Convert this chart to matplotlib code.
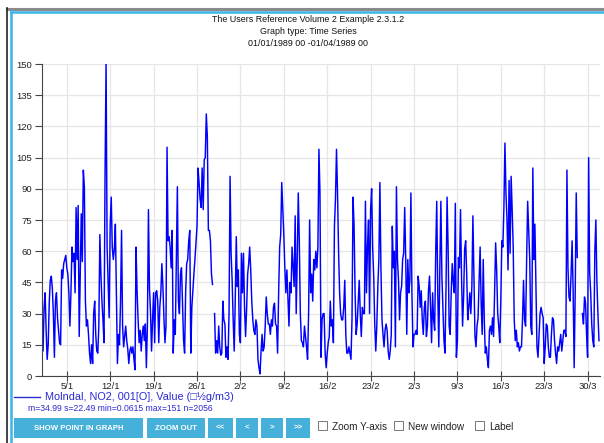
import numpy as np
import pandas as pd
import matplotlib
matplotlib.use("Agg")
import matplotlib.pyplot as plt
from matplotlib.patches import Rectangle
from matplotlib.lines import Line2D

nan = np.nan

# NO2 (ug/m3) at Molndal, every 4 hours, one row per day
no2 = [
    [30, 12, 33, 40, 22, 8], [15, 35, 46, 48, 42, 30], [9, 36, 40, 28, 22, 16],
    [15, 51, 47, 54, 56, 58], [52, 49, 40, 24, 40, 62], [55, 59, 40, 81, 56, 82],
    [19, 50, 78, 55, 99, 91], [36, 24, 27, 20, 11, 6], [15, 6, 30, 36, 20, 12],
    [11, 24, 68, 49, 36, 27], [16, 96, 151, 62, 45, 28], [73, 86, 62, 56, 61, 73],
    [40, 6, 20, 15, 36, 70], [24, 14, 19, 24, 17, 13], [6, 12, 14, 11, 14, 8],
    [3, 62, 41, 27, 16, 22], [12, 20, 24, 17, 25, 4], [24, 80, 42, 31, 12, 27],
    [40, 16, 40, 41, 36, 16], [33, 40, 54, 43, 28, 16], [24, 110, 65, 67, 62, 52],
    [70, 11, 27, 20, 56, 91], [36, 30, 49, 52, 35, 17], [11, 40, 54, 56, 65, 70],
    [11, 33, 41, 49, 56, 64], [72, 100, 93, 85, 81, 100], [80, 104, 105, 126, 115, 70],
    [70, 65, 49, 44, nan, 30], [11, 17, 11, 24, 14, 10], [11, 36, 27, 25, 9, 14],
    [8, 30, 96, 59, 46, 27], [12, 36, 67, 43, 51, 20], [16, 59, 40, 59, 33, 19],
    [32, 49, 54, 62, 51, 36], [27, 22, 20, 27, 24, 8], [4, 1, 12, 20, 12, 14],
    [24, 38, 30, 25, 25, 20], [27, 24, 33, 35, 25, 24], [11, 40, 62, 68, 93, 81],
    [68, 52, 40, 51, 38, 24], [45, 40, 62, 52, 43, 77], [30, 56, 88, 65, 30, 17],
    [16, 14, 24, 19, 14, 8], [30, 75, 40, 49, 36, 56], [51, 60, 52, 62, 109, 88],
    [9, 27, 30, 30, 11, 4], [11, 16, 19, 36, 24, 27], [16, 72, 85, 109, 88, 60],
    [40, 30, 27, 27, 33, 46], [20, 11, 11, 14, 11, 8], [27, 86, 72, 40, 20, 25],
    [35, 46, 30, 19, 33, 30], [30, 84, 40, 62, 75, 30], [80, 90, 62, 48, 25, 12],
    [24, 43, 56, 93, 52, 27], [20, 14, 22, 25, 22, 12], [8, 12, 20, 72, 52, 60],
    [14, 91, 56, 46, 27, 40], [43, 56, 59, 81, 56, 20], [56, 40, 46, 88, 40, 14],
    [20, 20, 22, 20, 48, 43], [33, 41, 27, 20, 33, 36], [19, 24, 41, 48, 33, 16],
    [40, 27, 22, 59, 84, 40], [14, 52, 84, 48, 33, 17], [11, 43, 86, 62, 24, 20],
    [40, 54, 45, 40, 83, 9], [17, 57, 52, 80, 48, 24], [38, 61, 65, 49, 27, 33],
    [40, 30, 43, 77, 48, 19], [14, 24, 28, 46, 62, 35], [20, 56, 27, 11, 14, 8],
    [4, 22, 24, 20, 28, 19], [40, 64, 51, 30, 24, 16], [36, 65, 62, 81, 112, 88],
    [75, 51, 94, 59, 96, 80], [62, 27, 17, 22, 14, 16], [12, 14, 14, 27, 46, 27],
    [24, 56, 84, 70, 56, 24], [20, 100, 56, 73, 44, 14], [9, 19, 30, 33, 30, 28],
    [6, 14, 25, 24, 14, 9], [9, 20, 28, 27, 17, 11], [6, 14, 12, 16, 20, 12],
    [17, 22, 22, 19, 99, 52], [38, 36, 49, 65, 41, 4], [40, 88, 57, nan, nan, nan],
    [nan, 30, 25, 38, 35, 20], [9, 105, 50, 40, 25, 17], [14, 60, 75, 45, 30, 17],
]
start = "1989-01-01 00:00"
end = "1989-04-01 00:00"
x_ticks = pd.date_range("1989-01-05", "1989-03-30", freq="7D")
y_ticks = list(range(0, 151, 15))

title_lines = ["The Users Reference Volume 2 Example 2.3.1.2",
               "Graph type: Time Series",
               "01/01/1989 00 -01/04/1989 00"]
legend_label = "Molndal, NO2, 001[O], Value (\u25a1\u00bdg/m3)"
stats_label = "m=34.99 s=22.49 min=0.0615 max=151 n=2056"
buttons = ["SHOW POINT IN GRAPH", "ZOOM OUT", "<<", "<", ">", ">>"]
checkboxes = ["Zoom Y-axis", "New window", "Label"]

values = np.array(no2, dtype=float).ravel()
times = pd.date_range(start, periods=len(values), freq="4h")

W, H = 604, 443
plt.rcParams['font.family'] = ['Liberation Sans', 'DejaVu Sans']
fig = plt.figure(figsize=(W / 100, H / 100), dpi=100)


def fx(x):
    return x / W


def fy(y):
    return 1 - y / H


# page frame
fig.add_artist(Line2D([fx(7), fx(604)], [fy(8.5), fy(8.5)], color='#8a8a8a', lw=2.2))
fig.add_artist(Line2D([fx(7), fx(7)], [fy(8), fy(443)], color='#222222', lw=1.2))
fig.add_artist(Line2D([fx(11), fx(604)], [fy(11.5), fy(11.5)], color='#3cb4e6', lw=1.8))
fig.add_artist(Line2D([fx(11), fx(11)], [fy(11), fy(443)], color='#3cb4e6', lw=1.8))

ax = fig.add_axes([fx(42), fy(376), (600 - 42) / W, (376 - 64) / H])
ax.plot(times, values, color='#0000ff', lw=1.05)
ax.set_xlim(pd.Timestamp(start), pd.Timestamp(end))
ax.set_ylim(0, 150)
ax.set_yticks(y_ticks)
ax.set_xticks(x_ticks)
ax.set_xticklabels([f"{d.day}/{d.month}" for d in x_ticks])
ax.grid(color='#e6e6e6', lw=0.9)
ax.set_axisbelow(True)
for s in ['top', 'right']:
    ax.spines[s].set_visible(False)
for s in ['left', 'bottom']:
    ax.spines[s].set_color('#444444')
ax.tick_params(axis='y', length=5, width=0.8, colors='#444444', labelcolor='#222222', labelsize=6.8, pad=2)
ax.tick_params(axis='x', direction='inout', length=7, width=0.8, colors='#444444', labelcolor='#222222', labelsize=6.8, pad=1)

# title
for i, t in enumerate(title_lines):
    fig.text(fx(308), fy(19 + 12 * i), t, ha='center', va='center', fontsize=6.4, color='#111111')

# legend
fig.add_artist(Line2D([fx(14), fx(40)], [fy(397), fy(397)], color='#2a2ad0', lw=1.0))
fig.text(fx(45), fy(397), legend_label, ha='left', va='center', fontsize=7.8, color='#2a2ad0')
fig.text(fx(28), fy(408.5), stats_label, ha='left', va='center', fontsize=6.2, color='#2a2ad0')

# buttons
bx = [(14, 143), (147, 205), (208, 233), (236, 258), (261, 283), (286, 310)]
for (x0, x1), b in zip(bx, buttons):
    fig.add_artist(Rectangle((fx(x0), fy(438)), (x1 - x0) / W, 20 / H, transform=fig.transFigure,
                             facecolor='#45b0da', edgecolor='none'))
    fig.text(fx((x0 + x1) / 2), fy(428), b, ha='center', va='center', fontsize=5.6,
             color='white', fontweight='bold')

# checkboxes
cx = [318, 394, 475]
for x0, c in zip(cx, checkboxes):
    fig.add_artist(Rectangle((fx(x0), fy(430)), 9 / W, 9 / H, transform=fig.transFigure,
                             facecolor='white', edgecolor='#777777', lw=0.7))
    fig.text(fx(x0 + 14), fy(426.5), c, ha='left', va='center', fontsize=7.2, color='#222222')

fig.savefig("out.png", dpi=100)
